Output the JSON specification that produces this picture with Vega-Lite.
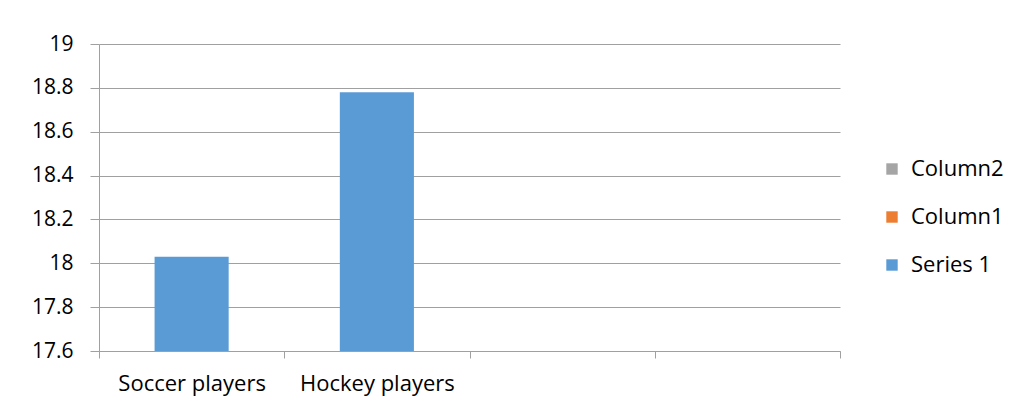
{
  "$schema": "https://vega.github.io/schema/vega-lite/v6.json",
  "width": 741,
  "height": 307,
  "autosize": {"type": "none"},
  "padding": {"left": 99, "top": 44, "right": 171, "bottom": 59},
  "background": "white",
  "data": {
    "values": [
      {"category": "Soccer players", "series": "Series 1", "value": 18.03},
      {"category": "Hockey players", "series": "Series 1", "value": 18.78}
    ]
  },
  "mark": {"type": "bar", "width": {"band": 0.4}, "clip": true},
  "encoding": {
    "x": {
      "field": "category",
      "type": "nominal",
      "sort": null,
      "scale": {"domain": ["Soccer players", "Hockey players", "_3", "_4"], "paddingInner": 0, "paddingOuter": 0},
      "axis": {
        "title": null,
        "labelAngle": 0,
        "tickBand": "extent",
        "labelExpr": "datum.value == '_3' || datum.value == '_4' ? '' : datum.value",
        "labelFont": "Open Sans",
        "labelFontSize": 22,
        "labelColor": "#000000",
        "labelPadding": 15,
        "tickSize": 7,
        "tickColor": "#A0A0A0",
        "domainColor": "#A0A0A0",
        "grid": false
      }
    },
    "y": {
      "field": "value",
      "type": "quantitative",
      "scale": {"domain": [17.6, 19], "zero": false, "nice": false},
      "axis": {
        "title": null,
        "values": [17.6, 17.8, 18, 18.2, 18.4, 18.6, 18.8, 19],
        "format": "~g",
        "labelFont": "Open Sans",
        "labelFontSize": 21,
        "labelColor": "#000000",
        "labelPadding": 17,
        "tickSize": 9,
        "tickColor": "#A0A0A0",
        "domainColor": "#A0A0A0",
        "grid": true,
        "gridColor": "#A0A0A0"
      }
    },
    "color": {
      "field": "series",
      "type": "nominal",
      "scale": {"domain": ["Column2", "Column1", "Series 1"], "range": ["#A5A5A5", "#ED7D31", "#5B9BD5"]},
      "legend": {
        "title": null,
        "orient": "none",
        "legendX": 782,
        "legendY": 114,
        "symbolType": "square",
        "symbolSize": 130,
        "symbolStrokeWidth": 0,
        "labelFont": "Open Sans",
        "labelFontSize": 22,
        "labelColor": "#000000",
        "labelOffset": 8,
        "rowPadding": 26
      }
    }
  },
  "config": {"view": {"stroke": null}}
}
